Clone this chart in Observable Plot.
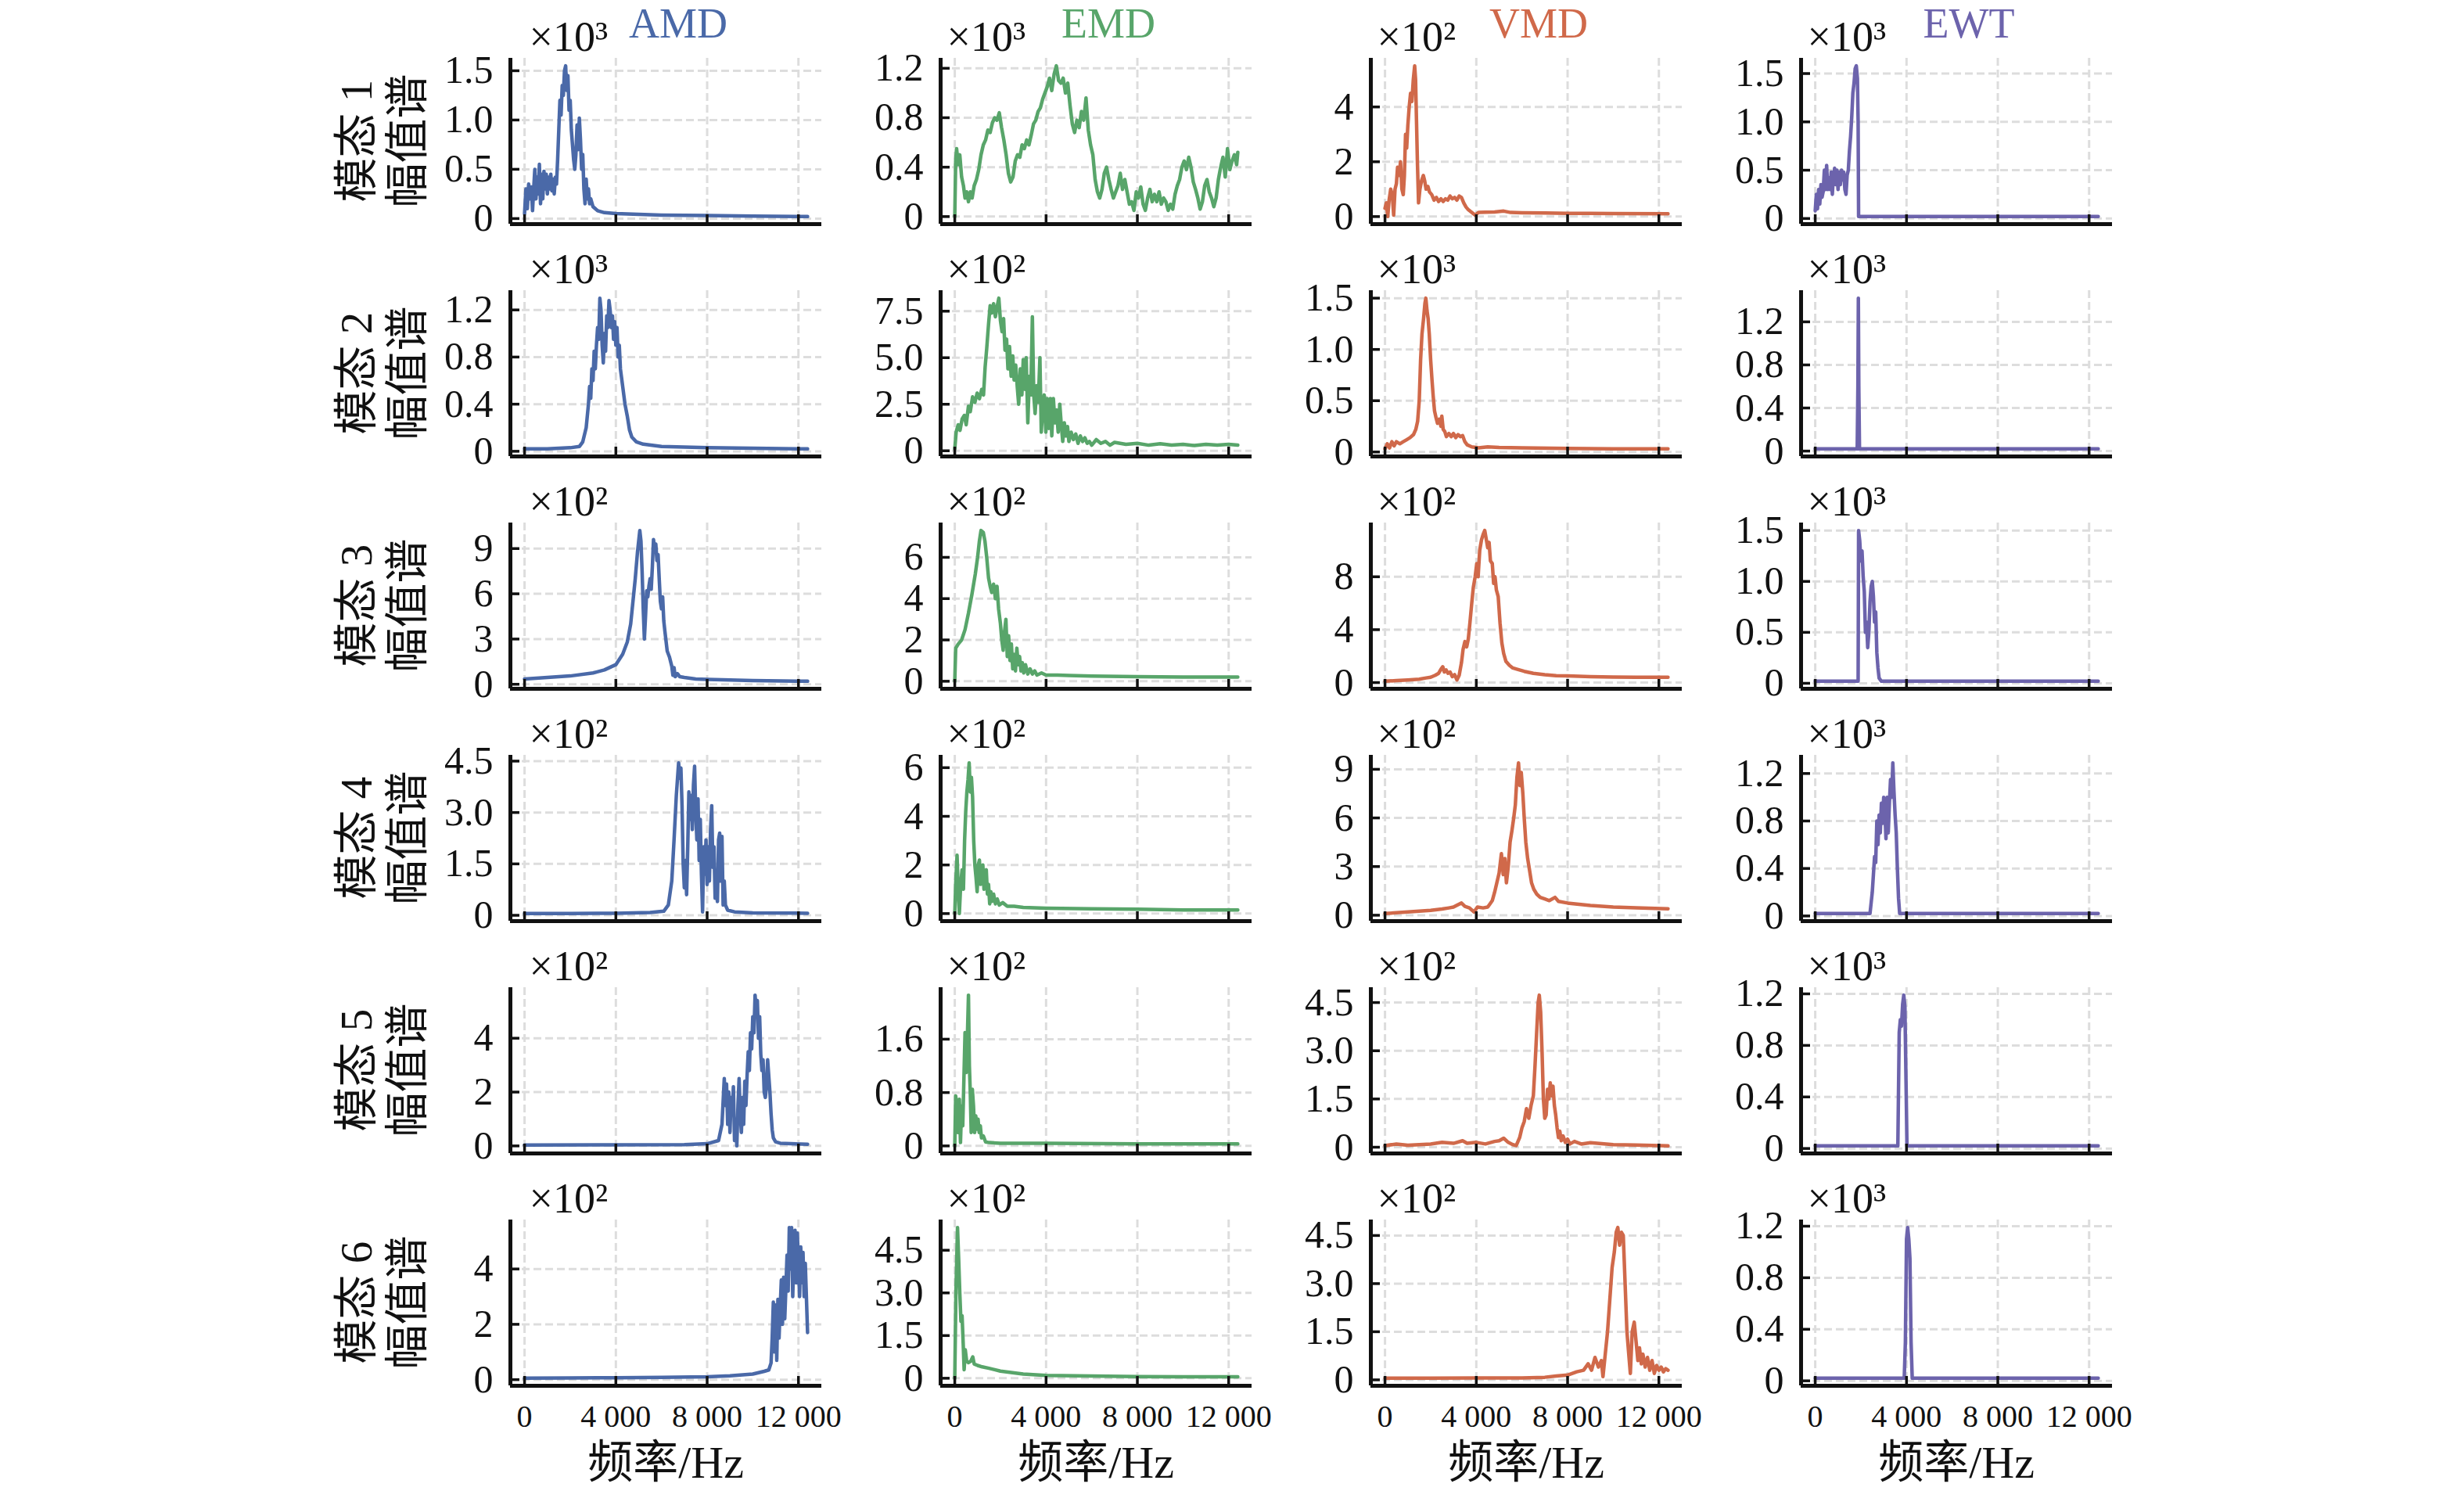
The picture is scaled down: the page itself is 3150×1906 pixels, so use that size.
<!DOCTYPE html>
<html><head><meta charset="utf-8">
<script src="https://cdn.jsdelivr.net/npm/d3@7"></script>
<script src="https://cdn.jsdelivr.net/npm/@observablehq/plot@0.6"></script>
<style>
html,body{margin:0;padding:0;background:#fff;}
#fig{position:relative;width:3150px;height:1906px;background:#fff;overflow:hidden;font-family:"Liberation Serif","Noto Sans CJK SC",serif;color:#111;}
.lbl{position:absolute;white-space:nowrap;line-height:1;}
</style></head><body><div id="fig"></div>
<script>
// ---------- data ----------
const methods = ["AMD","EMD","VMD","EWT"];
const modeLabels = ["模态 1","模态 2","模态 3","模态 4","模态 5","模态 6"];
const yLabel = "幅值谱";
const xTitle = "频率/Hz";
const xTicks = [0,4000,8000,12000];
const xTickLabels = ["0","4 000","8 000","12 000"];
const expAMD = [3,3,2,2,2,2];
const expEMD = [3,2,2,2,2,2];
const expVMD = [2,3,2,2,2,2];
const expEWT = [3,3,3,3,3,3];
const yTicksAMD = [[0,0.5,1,1.5],[0,0.4,0.8,1.2],[0,3,6,9],[0,1.5,3,4.5],[0,2,4],[0,2,4]];
const yTicksEMD = [[0,0.4,0.8,1.2],[0,2.5,5,7.5],[0,2,4,6],[0,2,4,6],[0,0.8,1.6],[0,1.5,3,4.5]];
const yTicksVMD = [[0,2,4],[0,0.5,1,1.5],[0,4,8],[0,3,6,9],[0,1.5,3,4.5],[0,1.5,3,4.5]];
const yTicksEWT = [[0,0.5,1,1.5],[0,0.4,0.8,1.2],[0,0.5,1,1.5],[0,0.4,0.8,1.2],[0,0.4,0.8,1.2],[0,0.4,0.8,1.2]];

const amd1 = [[0,0.05],[60,0.3],[120,0.1],[180,0.35],[250,0.2],[300,0.32],[350,0.08],[400,0.3],[450,0.5],[500,0.2],[550,0.42],[600,0.25],[650,0.55],[700,0.15],[750,0.45],[800,0.2],[850,0.48],[900,0.3],[950,0.45],[1000,0.25],[1050,0.42],[1100,0.3],[1150,0.45],[1200,0.28],[1250,0.4],[1300,0.25],[1350,0.42],[1400,0.35],[1450,0.6],[1500,0.9],[1550,1.2],[1600,1.05],[1650,1.35],[1700,1.25],[1750,1.5],[1800,1.55],[1850,1.3],[1900,1.45],[1950,1.1],[2000,1.2],[2050,0.9],[2100,0.75],[2150,0.6],[2200,0.5],[2250,0.65],[2300,0.95],[2350,0.7],[2400,1.02],[2450,0.8],[2500,0.5],[2550,0.65],[2600,0.3],[2650,0.15],[2700,0.4],[2750,0.2],[2800,0.3],[2850,0.15],[2900,0.2],[3000,0.12],[3200,0.08],[3500,0.06],[4000,0.05],[6000,0.035],[8000,0.03],[10000,0.025],[12400,0.02]];
const amd2 = [[0,0.02],[1000,0.02],[2000,0.03],[2400,0.04],[2550,0.08],[2700,0.2],[2800,0.4],[2850,0.55],[2900,0.45],[2950,0.7],[3000,0.6],[3050,0.85],[3100,0.7],[3150,0.9],[3200,1.05],[3250,0.95],[3300,1.3],[3350,1.2],[3400,0.9],[3450,0.75],[3500,1.0],[3550,0.85],[3600,1.15],[3650,1.05],[3700,1.28],[3750,1.2],[3800,1.05],[3850,1.15],[3900,0.95],[3950,1.1],[4000,0.9],[4050,1.05],[4100,0.8],[4150,0.9],[4200,0.7],[4300,0.55],[4400,0.4],[4500,0.3],[4600,0.18],[4700,0.12],[4900,0.08],[5200,0.06],[6000,0.04],[8000,0.03],[10000,0.025],[12400,0.02]];
const amd3 = [[0,0.35],[1000,0.45],[2000,0.55],[3000,0.75],[3500,0.95],[4000,1.3],[4300,2.0],[4500,2.8],[4650,4.0],[4750,5.5],[4850,7.0],[4950,8.8],[5050,10.2],[5100,9.5],[5150,7.5],[5200,5.0],[5250,3.0],[5300,4.5],[5350,6.2],[5400,5.8],[5450,6.5],[5500,7.0],[5550,6.3],[5600,7.8],[5650,9.6],[5700,9.0],[5750,9.3],[5800,8.2],[5850,8.6],[5900,7.0],[5950,5.5],[6000,5.0],[6050,5.8],[6100,4.2],[6150,3.5],[6250,2.2],[6350,1.8],[6450,1.2],[6500,0.6],[6550,1.1],[6600,0.5],[6700,0.7],[6800,0.5],[7000,0.45],[7500,0.35],[8000,0.32],[10000,0.25],[12400,0.2]];
const amd4 = [[0,0.05],[2000,0.05],[4000,0.06],[5500,0.08],[6100,0.12],[6300,0.3],[6450,1.0],[6550,2.2],[6650,3.5],[6750,4.45],[6800,4.0],[6850,4.3],[6900,3.2],[6950,1.5],[7000,0.8],[7050,1.6],[7100,0.6],[7150,2.0],[7200,3.6],[7250,2.8],[7300,3.5],[7350,2.5],[7400,3.8],[7450,4.35],[7500,3.0],[7550,2.2],[7600,3.4],[7650,1.6],[7700,2.8],[7750,1.2],[7800,0.1],[7850,2.0],[7900,1.2],[7950,2.2],[8000,0.9],[8050,2.0],[8100,1.0],[8150,2.5],[8200,3.2],[8250,1.4],[8300,2.0],[8350,0.5],[8400,1.2],[8450,0.4],[8500,2.2],[8550,2.4],[8600,1.0],[8650,2.3],[8700,0.3],[8750,1.0],[8800,0.3],[8900,0.15],[9200,0.1],[10000,0.07],[12400,0.06]];
const amd5 = [[0,0.03],[4000,0.04],[7000,0.05],[8000,0.08],[8500,0.2],[8650,0.8],[8750,2.5],[8800,1.5],[8850,2.3],[8900,0.8],[8950,2.0],[9000,0.5],[9050,1.8],[9100,1.2],[9150,2.2],[9200,0.2],[9250,1.0],[9300,0.0],[9350,1.5],[9400,2.5],[9450,1.2],[9500,0.5],[9550,1.8],[9600,0.8],[9650,2.4],[9700,1.5],[9750,2.6],[9800,3.5],[9850,2.8],[9900,4.2],[9950,3.6],[10000,4.8],[10050,4.2],[10100,5.6],[10150,5.0],[10200,5.4],[10250,4.0],[10300,4.8],[10350,3.4],[10400,2.8],[10450,3.2],[10500,2.0],[10550,1.8],[10600,2.2],[10650,3.2],[10700,2.6],[10750,2.0],[10800,1.2],[10850,0.6],[10900,0.3],[11000,0.15],[11200,0.1],[12400,0.06]];
const amd6 = [[0,0.05],[2000,0.06],[4000,0.07],[6000,0.08],[8000,0.1],[9000,0.14],[10000,0.2],[10500,0.3],[10700,0.35],[10800,0.6],[10850,1.5],[10900,2.8],[10950,1.0],[11000,2.7],[11050,0.7],[11100,2.9],[11150,1.5],[11200,2.6],[11250,3.6],[11300,2.0],[11350,3.7],[11400,2.2],[11450,3.3],[11500,4.5],[11550,3.2],[11600,5.5],[11650,4.0],[11700,5.5],[11750,3.0],[11800,4.6],[11850,5.4],[11900,3.5],[11950,5.3],[12000,4.2],[12050,3.0],[12100,4.8],[12150,3.5],[12200,4.6],[12250,3.0],[12300,4.2],[12400,1.7]];

const emd1 = [[0,0.0],[40,0.45],[80,0.55],[150,0.42],[220,0.5],[300,0.32],[380,0.25],[450,0.15],[520,0.2],[600,0.12],[680,0.2],[760,0.15],[850,0.25],[950,0.3],[1050,0.38],[1150,0.5],[1250,0.58],[1350,0.62],[1450,0.7],[1550,0.68],[1650,0.76],[1750,0.8],[1850,0.78],[1950,0.84],[2050,0.72],[2150,0.62],[2250,0.5],[2350,0.35],[2450,0.28],[2550,0.32],[2650,0.45],[2750,0.5],[2850,0.48],[2950,0.58],[3050,0.55],[3150,0.62],[3250,0.58],[3350,0.66],[3450,0.75],[3550,0.78],[3650,0.85],[3750,0.88],[3850,0.95],[3950,1.0],[4050,1.05],[4150,1.12],[4250,1.02],[4350,1.15],[4450,1.22],[4550,1.1],[4650,1.08],[4750,1.12],[4850,1.0],[4950,1.08],[5050,0.9],[5150,0.75],[5250,0.68],[5350,0.78],[5450,0.72],[5550,0.85],[5650,0.78],[5750,0.96],[5850,0.7],[5950,0.58],[6050,0.5],[6150,0.3],[6250,0.2],[6350,0.15],[6450,0.22],[6550,0.35],[6650,0.4],[6750,0.3],[6850,0.22],[6950,0.15],[7050,0.2],[7150,0.25],[7250,0.35],[7350,0.22],[7450,0.3],[7550,0.2],[7650,0.1],[7750,0.12],[7850,0.05],[7950,0.2],[8050,0.15],[8150,0.24],[8250,0.1],[8350,0.05],[8450,0.15],[8550,0.22],[8650,0.12],[8750,0.18],[8850,0.12],[8950,0.2],[9050,0.1],[9150,0.15],[9250,0.12],[9350,0.05],[9450,0.1],[9550,0.06],[9650,0.18],[9750,0.25],[9850,0.3],[9950,0.4],[10050,0.45],[10150,0.38],[10250,0.48],[10350,0.4],[10450,0.28],[10550,0.22],[10650,0.15],[10750,0.06],[10850,0.12],[10950,0.25],[11050,0.3],[11150,0.2],[11250,0.15],[11350,0.08],[11450,0.15],[11550,0.3],[11650,0.4],[11750,0.48],[11850,0.32],[11950,0.55],[12050,0.38],[12150,0.45],[12250,0.5],[12350,0.42],[12400,0.52]];
const emd2 = [[0,0.1],[60,1.0],[150,1.4],[230,1.1],[320,1.7],[420,1.9],[500,1.4],[600,2.4],[680,2.1],[780,2.9],[880,2.6],[980,3.1],[1080,2.8],[1180,3.3],[1260,3.0],[1330,4.5],[1400,5.5],[1480,6.8],[1550,7.8],[1620,7.4],[1700,7.9],[1780,7.2],[1850,7.7],[1930,8.2],[2000,7.0],[2070,6.4],[2140,7.1],[2200,5.4],[2270,6.0],[2330,4.4],[2400,5.6],[2470,4.0],[2540,5.1],[2600,3.8],[2670,4.6],[2740,3.4],[2800,2.5],[2870,4.4],[2940,3.0],[3000,4.9],[3070,3.3],[3130,5.0],[3200,1.5],[3270,4.0],[3330,3.0],[3400,7.2],[3460,3.0],[3520,2.0],[3590,3.5],[3660,2.6],[3730,5.0],[3790,1.0],[3860,2.4],[3920,3.0],[3990,1.0],[4050,2.8],[4120,1.2],[4190,2.8],[4250,0.8],[4320,2.8],[4390,1.5],[4460,2.2],[4530,1.0],[4600,2.5],[4660,1.5],[4730,0.5],[4800,1.5],[4870,0.8],[4940,1.3],[5000,0.5],[5100,1.0],[5200,0.6],[5300,0.9],[5400,0.4],[5500,0.8],[5600,0.5],[5700,0.7],[5800,0.4],[5900,0.5],[6000,0.3],[6200,0.6],[6400,0.4],[6600,0.5],[6800,0.3],[7000,0.45],[7500,0.35],[8000,0.4],[8500,0.3],[9000,0.38],[9500,0.3],[10000,0.35],[10500,0.28],[11000,0.35],[11500,0.3],[12000,0.35],[12400,0.3]];
const emd3 = [[0,0.0],[40,1.6],[150,1.8],[300,2.0],[450,2.5],[600,3.3],[750,4.2],[900,5.2],[1000,6.0],[1080,6.8],[1150,7.3],[1250,7.2],[1320,6.8],[1400,6.0],[1480,5.0],[1550,4.6],[1620,4.3],[1700,4.7],[1780,4.0],[1850,4.6],[1920,3.5],[2000,2.8],[2060,2.0],[2120,1.5],[2180,2.4],[2240,3.0],[2300,1.2],[2360,2.2],[2420,1.0],[2480,1.8],[2540,0.6],[2600,1.3],[2660,0.5],[2720,1.6],[2780,0.8],[2840,1.2],[2900,0.5],[2960,0.9],[3020,0.4],[3100,0.8],[3200,0.35],[3300,0.6],[3400,0.35],[3500,0.5],[3600,0.3],[3800,0.4],[4000,0.3],[4500,0.3],[5000,0.28],[6000,0.25],[8000,0.22],[10000,0.2],[12400,0.2]];
const emd4 = [[0,0.0],[40,1.2],[100,2.4],[150,1.0],[200,0.0],[260,1.2],[320,1.8],[380,1.0],[430,3.0],[480,4.2],[530,5.0],[580,5.5],[630,6.2],[680,5.0],[730,5.6],[780,4.8],[830,3.0],[880,2.0],[930,1.5],[980,0.9],[1030,2.0],[1080,2.2],[1130,1.2],[1180,1.8],[1230,2.0],[1280,1.0],[1330,1.6],[1380,1.8],[1430,0.8],[1480,1.2],[1530,0.4],[1580,0.9],[1630,0.5],[1700,0.8],[1780,0.4],[1860,0.6],[1950,0.35],[2100,0.45],[2300,0.3],[2600,0.3],[3000,0.25],[4000,0.22],[6000,0.2],[8000,0.18],[10000,0.15],[12400,0.15]];
const emd5 = [[0,0.0],[40,0.75],[90,0.6],[140,0.2],[200,0.7],[250,0.05],[300,0.6],[350,0.3],[400,1.0],[450,1.7],[500,1.1],[550,1.6],[600,2.26],[640,1.2],[680,0.8],[720,0.2],[770,0.85],[820,0.6],[870,0.2],[920,0.45],[970,0.25],[1020,0.4],[1070,0.2],[1120,0.3],[1170,0.12],[1250,0.15],[1350,0.06],[1500,0.05],[2000,0.04],[4000,0.04],[8000,0.03],[12400,0.03]];
const emd6 = [[0,0.0],[50,3.0],[120,5.3],[170,4.2],[220,3.0],[270,2.0],[320,2.2],[370,1.2],[410,0.3],[460,1.0],[520,0.6],[600,0.55],[700,0.6],[790,0.75],[850,0.5],[1000,0.45],[1200,0.4],[1500,0.35],[2000,0.25],[3000,0.15],[4000,0.1],[6000,0.08],[8000,0.06],[10000,0.05],[12400,0.05]];

const vmd1 = [[0,0.3],[60,0.5],[120,0.0],[180,0.6],[250,1.0],[320,0.8],[380,0.05],[440,1.0],[500,1.2],[550,1.8],[620,1.5],[680,2.0],[740,1.0],[800,0.8],[850,1.5],[900,3.0],[950,2.5],[1000,3.3],[1060,4.0],[1120,4.5],[1180,4.2],[1240,5.0],[1300,5.5],[1340,5.0],[1380,3.5],[1420,2.0],[1470,0.5],[1530,1.0],[1600,1.3],[1680,1.5],[1740,1.3],[1800,1.0],[1880,1.1],[1950,0.9],[2050,0.8],[2150,0.6],[2250,0.7],[2350,0.55],[2450,0.65],[2550,0.55],[2650,0.65],[2750,0.6],[2850,0.75],[2950,0.65],[3050,0.7],[3150,0.6],[3250,0.75],[3350,0.7],[3450,0.5],[3550,0.35],[3650,0.25],[3800,0.15],[3950,0.05],[4100,0.15],[4400,0.16],[4800,0.17],[5200,0.2],[5500,0.15],[6000,0.14],[7000,0.13],[8000,0.12],[10000,0.11],[12400,0.1]];
const vmd2 = [[0,0.03],[100,0.08],[200,0.04],[300,0.1],[400,0.06],[500,0.1],[650,0.08],[800,0.1],[950,0.12],[1100,0.14],[1250,0.17],[1350,0.22],[1430,0.3],[1500,0.5],[1560,0.9],[1620,1.15],[1690,1.3],[1750,1.45],[1790,1.5],[1840,1.38],[1890,1.3],[1940,1.15],[2000,0.9],[2060,0.7],[2110,0.55],[2170,0.4],[2240,0.33],[2300,0.28],[2380,0.32],[2450,0.25],[2490,0.35],[2550,0.22],[2620,0.2],[2690,0.15],[2800,0.18],[2900,0.15],[3000,0.18],[3100,0.14],[3200,0.17],[3300,0.15],[3400,0.16],[3500,0.1],[3600,0.07],[3800,0.05],[4100,0.04],[4500,0.05],[5000,0.045],[6000,0.04],[8000,0.035],[10000,0.03],[12400,0.03]];
const vmd3 = [[0,0.1],[500,0.15],[1000,0.2],[1500,0.25],[1800,0.35],[2000,0.4],[2200,0.55],[2350,0.7],[2450,1.0],[2530,1.2],[2600,0.8],[2680,0.95],[2760,0.7],[2850,0.8],[2950,0.45],[3050,0.6],[3150,0.2],[3250,0.55],[3350,1.5],[3420,2.5],[3500,3.1],[3580,2.7],[3650,3.3],[3720,4.5],[3800,6.0],[3870,7.2],[3950,8.0],[4020,9.0],[4080,8.0],[4150,10.0],[4230,10.8],[4300,11.2],[4370,11.5],[4440,10.8],[4500,10.2],[4560,10.6],[4620,9.2],[4700,9.0],[4760,7.5],[4820,8.0],[4880,7.0],[4960,6.5],[5040,4.5],[5120,3.0],[5200,2.2],[5300,1.6],[5450,1.3],[5600,1.1],[5800,1.0],[6100,0.85],[6500,0.7],[7000,0.6],[7500,0.52],[8000,0.5],[9000,0.45],[10000,0.42],[11000,0.4],[12400,0.4]];
const vmd4 = [[0,0.1],[500,0.15],[1000,0.2],[1500,0.25],[2000,0.3],[2500,0.38],[2800,0.45],[3000,0.5],[3200,0.65],[3350,0.75],[3500,0.55],[3700,0.45],[3900,0.2],[4050,0.5],[4300,0.45],[4500,0.5],[4600,0.7],[4700,0.9],[4800,1.4],[4900,2.0],[5000,2.6],[5100,3.8],[5180,2.5],[5250,3.5],[5320,2.0],[5400,3.0],[5480,4.5],[5560,5.2],[5640,6.0],[5710,6.8],[5780,8.5],[5850,9.4],[5910,8.0],[5970,8.8],[6040,7.5],[6100,6.0],[6170,4.5],[6250,3.5],[6330,2.8],[6420,2.0],[6520,1.6],[6650,1.3],[6800,1.1],[7000,1.0],[7200,0.9],[7450,1.1],[7600,0.85],[8000,0.75],[9000,0.6],[10000,0.5],[11000,0.45],[12400,0.4]];
const vmd5 = [[0,0.05],[500,0.1],[1000,0.06],[1500,0.08],[2000,0.1],[2500,0.15],[3000,0.12],[3400,0.2],[3600,0.12],[4000,0.15],[4400,0.1],[4800,0.18],[5000,0.2],[5200,0.28],[5400,0.15],[5600,0.08],[5750,0.05],[5900,0.3],[6000,0.6],[6100,0.8],[6200,1.2],[6300,0.9],[6400,1.3],[6500,1.6],[6570,2.5],[6640,3.5],[6710,4.5],[6760,4.73],[6820,4.2],[6880,3.0],[6940,1.5],[7000,0.9],[7060,1.0],[7120,1.8],[7180,1.5],[7240,2.0],[7300,1.6],[7360,1.9],[7420,1.3],[7480,1.0],[7540,0.6],[7600,0.3],[7660,0.5],[7720,0.2],[7800,0.35],[7900,0.15],[8000,0.25],[8100,0.1],[8300,0.18],[8600,0.1],[9000,0.14],[10000,0.08],[11000,0.07],[12400,0.04]];
const vmd6 = [[0,0.05],[2000,0.05],[4000,0.06],[6000,0.06],[7000,0.08],[7500,0.12],[8000,0.15],[8400,0.25],[8700,0.3],[8900,0.5],[9050,0.3],[9200,0.7],[9350,0.4],[9480,0.6],[9550,0.1],[9650,0.8],[9750,1.5],[9850,2.5],[9950,3.5],[10050,4.0],[10130,4.6],[10200,4.75],[10280,4.2],[10360,4.6],[10440,4.5],[10520,3.0],[10600,1.5],[10680,0.8],[10750,0.2],[10830,1.5],[10920,1.8],[11000,1.2],[11080,0.6],[11150,1.0],[11230,0.5],[11300,0.8],[11400,0.4],[11500,0.7],[11600,0.3],[11700,0.6],[11800,0.2],[11900,0.45],[12000,0.3],[12100,0.4],[12200,0.25],[12300,0.35],[12400,0.3]];

const ewt1 = [[0,0.08],[50,0.25],[100,0.1],[150,0.3],[200,0.15],[250,0.35],[300,0.22],[350,0.28],[400,0.5],[450,0.3],[500,0.55],[550,0.3],[600,0.42],[650,0.3],[700,0.48],[750,0.25],[800,0.45],[850,0.52],[900,0.35],[950,0.5],[1000,0.3],[1050,0.48],[1100,0.35],[1150,0.5],[1200,0.4],[1250,0.48],[1300,0.3],[1350,0.25],[1400,0.45],[1450,0.5],[1500,0.7],[1550,0.85],[1600,1.05],[1650,1.3],[1700,1.4],[1750,1.55],[1800,1.58],[1850,1.45],[1880,1.0],[1900,0.02],[2000,0.02],[4000,0.02],[8000,0.02],[12400,0.02]];
const ewt2 = [[0,0.02],[1840,0.02],[1870,0.6],[1890,1.42],[1910,0.6],[1940,0.02],[4000,0.02],[8000,0.02],[12400,0.02]];
const ewt3 = [[0,0.02],[1850,0.02],[1880,0.02],[1900,1.5],[1950,1.4],[2000,1.2],[2050,1.3],[2100,1.05],[2150,0.9],[2200,0.5],[2250,0.6],[2300,0.35],[2350,0.5],[2400,0.8],[2450,0.95],[2500,1.0],[2550,0.85],[2600,0.6],[2650,0.7],[2700,0.3],[2750,0.15],[2800,0.05],[2900,0.02],[6000,0.02],[12400,0.02]];
const ewt4 = [[0,0.02],[2000,0.02],[2400,0.02],[2500,0.2],[2550,0.35],[2600,0.5],[2650,0.45],[2700,0.8],[2750,0.6],[2800,0.85],[2850,0.7],[2900,0.95],[2950,0.78],[3000,1.0],[3050,0.9],[3100,0.65],[3150,1.0],[3200,0.7],[3250,0.95],[3300,1.15],[3350,1.0],[3400,1.29],[3450,1.05],[3500,0.85],[3550,0.7],[3600,0.4],[3650,0.15],[3700,0.02],[8000,0.02],[12400,0.02]];
const ewt5 = [[0,0.02],[3550,0.02],[3620,0.02],[3680,0.9],[3730,1.0],[3780,0.95],[3830,1.12],[3880,1.19],[3930,1.1],[3980,0.5],[4020,0.02],[8000,0.02],[12400,0.02]];
const ewt6 = [[0,0.02],[3900,0.02],[3950,0.3],[4000,1.1],[4050,1.19],[4100,1.1],[4150,0.95],[4200,0.3],[4250,0.02],[8000,0.02],[12400,0.02]];

// ---------- assembly ----------
const series = {AMD:[amd1,amd2,amd3,amd4,amd5,amd6], EMD:[emd1,emd2,emd3,emd4,emd5,emd6], VMD:[vmd1,vmd2,vmd3,vmd4,vmd5,vmd6], EWT:[ewt1,ewt2,ewt3,ewt4,ewt5,ewt6]};
const exps = {AMD:expAMD, EMD:expEMD, VMD:expVMD, EWT:expEWT};
const yTicksAll = {AMD:yTicksAMD, EMD:yTicksEMD, VMD:yTicksVMD, EWT:yTicksEWT};

// ---------- style / layout ----------
const colors = ["#4a69a8","#58a56a","#d0694a","#6c63ac"];
const sup = {2:"²",3:"³"};
const colSpine = [652,1202,1752,2302];
const rowTop = [74,371,668,965,1262,1559];
const IW = 398, IH = 212, ML = 150, MR = 30, MT = 80;
const gridStyle = {stroke:"#dddddd", strokeWidth:3, strokeDasharray:"10,5"};
const ink = "#111";
const fig = document.getElementById("fig");

function addLabel(text, x, y, size, color, rotate) {
  const d = document.createElement("div");
  d.className = "lbl";
  d.textContent = text;
  d.style.fontSize = size + "px";
  d.style.left = x + "px";
  d.style.top = y + "px";
  d.style.color = color;
  d.style.transform = "translate(-50%,-50%)" + (rotate ? " rotate(-90deg)" : "");
  fig.appendChild(d);
}

methods.forEach((m, c) => {
  series[m].forEach((data, r) => {
    const last = r === 5;
    const MB = last ? 120 : 20;
    const [x0, x1] = d3.extent(data, d => d[0]);
    const [y0, y1] = d3.extent(data, d => d[1]);
    const xd = [x0 - 0.05 * (x1 - x0), x1 + 0.05 * (x1 - x0)];
    const yd = [y0 - 0.05 * (y1 - y0), y1 + 0.05 * (y1 - y0)];
    const yt = yTicksAll[m][r];
    const dec = yt.some(v => !Number.isInteger(v)) ? 1 : 0;
    const fmt = v => v === 0 ? "0" : v.toFixed(dec);
    const marks = [
      Plot.ruleY(yt, gridStyle),
      Plot.ruleX(xTicks, gridStyle),
      Plot.line(data, {x: d => d[0], y: d => d[1], stroke: colors[c], strokeWidth: 4.5, strokeLinejoin: "round"}),
      Plot.ruleX([xd[0]], {stroke: ink, strokeWidth: 5}),
      Plot.ruleY([yd[0]], {stroke: ink, strokeWidth: 5}),
      Plot.tickY(yt, {y: d => d, stroke: ink, strokeWidth: 3.5, insetRight: IW - 12}),
      Plot.tickX(xTicks, {x: d => d, stroke: ink, strokeWidth: 3.5, insetTop: IH - 12}),
      Plot.axisY({ticks: yt, tickSize: 0, tickPadding: 22, fontSize: 50, tickFormat: fmt, label: null}),
      Plot.text(["×10" + sup[exps[m][r]]], {frameAnchor: "top-left", dx: c === 0 ? 24 : 8, dy: -10, textAnchor: "start", lineAnchor: "bottom", fontSize: 54, text: d => d, fill: ink})
    ];
    if (last) marks.push(Plot.axisX({ticks: xTicks, tickSize: 0, tickPadding: 24, fontSize: 40, tickFormat: d => xTickLabels[xTicks.indexOf(d)], label: null}));
    const p = Plot.plot({
      width: ML + IW + MR, height: MT + IH + MB,
      marginLeft: ML, marginRight: MR, marginTop: MT, marginBottom: MB,
      x: last ? {domain: xd} : {domain: xd, axis: null},
      y: {domain: yd},
      marks
    });
    p.style.position = "absolute";
    p.style.left = (colSpine[c] - ML) + "px";
    p.style.top = (rowTop[r] - MT) + "px";
    p.style.background = "transparent";
    p.style.overflow = "visible";
    p.style.maxWidth = "none";
    p.style.fontFamily = '"Liberation Serif","Noto Sans CJK SC",serif';
    p.style.color = ink;
    fig.appendChild(p);
  });
  addLabel(m, colSpine[c] + 215, 30, 54, colors[c], false);
  addLabel(xTitle, colSpine[c] + 199, 1870, 58, ink, false);
});

modeLabels.forEach((t, r) => {
  const cy = rowTop[r] + IH / 2;
  addLabel(t, 455, cy, 57, ink, true);
  addLabel(yLabel, 520, cy, 57, ink, true);
});
</script>
</body></html>
